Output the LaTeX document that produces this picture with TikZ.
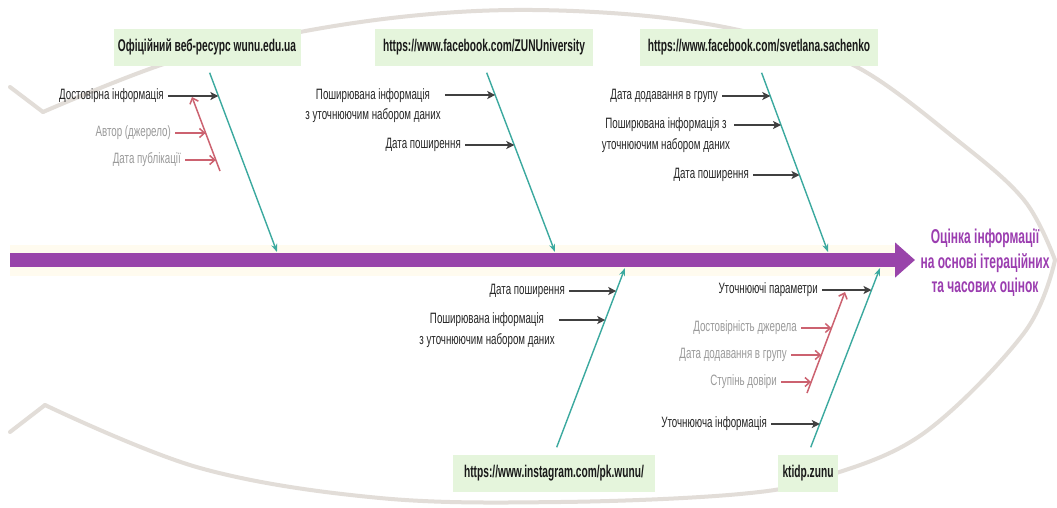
\documentclass[tikz,border=0pt]{standalone}
\usepackage{fontspec}
\setmainfont{Liberation Sans}
\newfontfamily\nar[FakeStretch=0.65]{Liberation Sans}
\newfontfamily\narb[FakeStretch=0.6]{Liberation Sans}
\newfontfamily\nart[FakeStretch=0.6]{Liberation Sans}
\usetikzlibrary{arrows.meta,calc}
\definecolor{outl}{HTML}{E2DDD8}
\definecolor{spinec}{HTML}{9944AA}
\definecolor{bonec}{HTML}{3BA99F}
\definecolor{darrc}{HTML}{404040}
\definecolor{redc}{HTML}{CC6270}
\definecolor{graytxt}{HTML}{9A9A9A}
\definecolor{boxfill}{HTML}{E5F5DC}
\definecolor{titlec}{HTML}{9B3DB0}
\definecolor{cream}{HTML}{FFFBEF}
\begin{document}
\begin{tikzpicture}[x=1pt,y=-1pt,
  srcbox/.style={fill=boxfill, inner sep=0pt, minimum height=37pt, font=\narb\bfseries\fontsize{17}{20}\selectfont, text=black!90},
  lbl/.style={inner sep=0pt, anchor=east, font=\nar\fontsize{15}{20.5}\selectfont, text=black!85},
  glbl/.style={lbl, text=graytxt},
  mlbl/.style={inner sep=0pt, align=center, font=\nar\fontsize{15}{20.5}\selectfont, text=black!85},
  bone/.style={draw=bonec, line width=1.4pt, -{Stealth[length=8pt,width=6pt]}, shorten <=7.5pt},
  darrow/.style={draw=darrc, line width=1.8pt, -{Stealth[length=8pt,width=8pt,inset=2pt]}, shorten <=4pt},
  rarrow/.style={draw=redc, line width=1.5pt, -{Straight Barb[length=5pt,width=9pt]}, shorten <=4pt},
  rbone/.style={draw=redc, line width=1.5pt, -{Straight Barb[length=5pt,width=9pt]}},
  outline/.style={draw=outl, line width=4pt, line cap=round, line join=round},
]
\useasboundingbox (0,0) rectangle (1057,507);
\fill[white] (0,0) rectangle (1057,507);

% fish outline
\draw[outline] (10,87) -- (43,112);
\draw[outline] (10,432) -- (45,405);
\draw[outline] plot[smooth, tension=0.6] coordinates {(43,112) (170,62) (300,32) (420,15) (533,10) (657,17) (760,35) (857,67) (957,140) (1024,200) (1055,260)};
\draw[outline] plot[smooth, tension=0.6] coordinates {(45,405) (200,468) (380,498) (560,502) (740,494) (824,477) (924,433) (1024,333) (1055,260)};

% spine
\fill[cream] (10,245) rectangle (895,276);
\coordinate (tail) at (10,260);
\coordinate (head) at (915,260);
\draw[spinec, line width=14pt, -{Triangle[length=20pt,width=34pt]}] (tail) -- (head);
\node[font=\nart\bfseries\fontsize{20}{24.5}\selectfont, text=titlec, align=center] (goal) at (985,263) {Оцінка інформації\\на основі ітераційних\\та часових оцінок};

% source boxes
\node[srcbox, minimum width=187pt] (s1) at (207,47) {Офіційний веб-ресурс wunu.edu.ua};
\node[srcbox, minimum width=218pt] (s2) at (484,47) {https://www.facebook.com/ZUNUniversity};
\node[srcbox, minimum width=238pt] (s3) at (759,47) {https://www.facebook.com/svetlana.sachenko};
\node[srcbox, minimum width=202pt] (s4) at (554,473) {https://www.instagram.com/pk.wunu/};
\node[srcbox, minimum width=60pt] (s5) at (808,473) {ktidp.zunu};

% bone ends on spine
\coordinate (b1e) at (277,252);
\coordinate (b2e) at (555,252);
\coordinate (b3e) at (828,252);
\coordinate (b4e) at (625,268);
\coordinate (b5e) at (880,268);
\draw[bone] (s1.south) -- (b1e);
\draw[bone] (s2.south) -- (b2e);
\draw[bone] (s3.south) -- (b3e);
\draw[bone] (s4.north) -- (b4e);
\draw[bone] (s5.north) -- (b5e);

% bone 1
\node[lbl] (l1a) at (164,96) {Достовірна інформація};
\node[glbl] (l1b) at (171,133) {Автор (джерело)};
\node[glbl] (l1c) at (181,160) {Дата публікації};
\coordinate (p1a) at (218.4,96);
\coordinate (r1s) at (220,171);
\coordinate (r1e) at (192,97);
\coordinate (q1b) at (205.6,133);
\coordinate (q1c) at (215.8,160);
\draw[darrow] (l1a) -- (p1a);
\draw[rbone] (r1s) -- (r1e);
\draw[rarrow] (l1b) -- (q1b);
\draw[rarrow] (l1c) -- (q1c);

% bone 2
\node[mlbl] (l2a) at (373,105.5) {Поширювана інформація\\з уточнюючим набором даних};
\node[lbl] (l2b) at (461,145) {Дата поширення};
\coordinate (p2a) at (495.2,95);
\coordinate (p2b) at (514.3,145);
\draw[darrow] (l2a.east |- p2a) -- (p2a);
\draw[darrow] (l2b) -- (p2b);

% bone 3
\node[lbl] (l3a) at (718,96) {Дата додавання в групу};
\node[mlbl] (l3b) at (666,135) {Поширювана інформація з\\уточнюючим набором даних};
\node[lbl] (l3c) at (749,175) {Дата поширення};
\coordinate (p3a) at (770.3,96);
\coordinate (p3b) at (781.0,125);
\coordinate (p3c) at (799.5,175);
\draw[darrow] (l3a) -- (p3a);
\draw[darrow] (l3b.east |- p3b) -- (p3b);
\draw[darrow] (l3c) -- (p3c);

% bone 4
\node[lbl] (l4a) at (565,291) {Дата поширення};
\node[mlbl] (l4b) at (487,330) {Поширювана інформація\\з уточнюючим набором даних};
\coordinate (p4a) at (616.2,291);
\coordinate (p4b) at (605.2,320);
\draw[darrow] (l4a) -- (p4a);
\draw[darrow] (l4b.east |- p4b) -- (p4b);

% bone 5
\node[lbl] (l5a) at (818,290) {Уточнюючі параметри};
\node[glbl] (l5b) at (797,328) {Достовірність джерела};
\node[glbl] (l5c) at (787,355) {Дата додавання в групу};
\node[glbl] (l5d) at (777,382) {Ступінь довіри};
\node[lbl] (l5e) at (767,424) {Уточнююча інформація};
\coordinate (p5a) at (871.5,290);
\coordinate (p5e) at (819.8,424);
\coordinate (r5s) at (807,393);
\coordinate (r5e) at (845,292);
\coordinate (q5b) at (831.4,328);
\coordinate (q5c) at (821.3,355);
\coordinate (q5d) at (811.1,382);
\draw[darrow] (l5a) -- (p5a);
\draw[rbone] (r5s) -- (r5e);
\draw[rarrow] (l5b) -- (q5b);
\draw[rarrow] (l5c) -- (q5c);
\draw[rarrow] (l5d) -- (q5d);
\draw[darrow] (l5e) -- (p5e);
\end{tikzpicture}
\end{document}
